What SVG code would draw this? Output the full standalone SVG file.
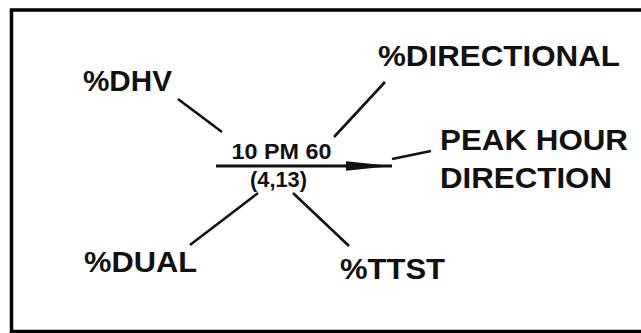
<svg xmlns="http://www.w3.org/2000/svg" width="641" height="333" viewBox="0 0 641 333">
<style>
.lbl{font-family:"Liberation Sans",Arial,sans-serif;font-weight:bold;font-size:30px;fill:#111}
.ctr{font-family:"Liberation Sans",Arial,sans-serif;font-weight:bold;font-size:22px;fill:#111}
.ln{stroke:#111;stroke-width:2.6;fill:none}
</style>
<defs>
<marker id="ah" markerUnits="userSpaceOnUse" markerWidth="46" markerHeight="12" refX="46" refY="6" orient="auto">
<path d="M0,1.3 L46,6 L0,10.7 Z" fill="#111"/>
</marker>
</defs>
<rect width="641" height="333" fill="#fff"/>
<path d="M641,10 H11.5 V331.5 H641" fill="none" stroke="#000" stroke-width="3.5"/>
<g id="connectors">
<line class="ln" x1="178" y1="99" x2="222" y2="132"/>
<line class="ln" x1="385" y1="82" x2="334" y2="137"/>
<line class="ln" x1="392" y1="159" x2="431" y2="151"/>
<line class="ln" x1="258" y1="193" x2="190" y2="245"/>
<line class="ln" x1="293" y1="193" x2="349" y2="246"/>
<line x1="216" y1="166" x2="392" y2="166" stroke="#111" stroke-width="3.2" marker-end="url(#ah)"/>
</g>
<g id="center">
<text class="ctr" x="281.5" y="159" text-anchor="middle" textLength="100" lengthAdjust="spacingAndGlyphs">10 PM 60</text>
<text class="ctr" x="278.5" y="187" text-anchor="middle" textLength="57" lengthAdjust="spacingAndGlyphs">(4,13)</text>
</g>
<g id="dhv"><text class="lbl" x="83" y="91" textLength="89" lengthAdjust="spacingAndGlyphs">%DHV</text></g>
<g id="directional"><text class="lbl" x="378" y="66" textLength="242" lengthAdjust="spacingAndGlyphs">%DIRECTIONAL</text></g>
<g id="peak"><text class="lbl" x="440" y="150" textLength="188" lengthAdjust="spacingAndGlyphs">PEAK HOUR</text><text class="lbl" x="440" y="188" textLength="172" lengthAdjust="spacingAndGlyphs">DIRECTION</text></g>
<g id="dual"><text class="lbl" x="84" y="271.5" textLength="113" lengthAdjust="spacingAndGlyphs">%DUAL</text></g>
<g id="ttst"><text class="lbl" x="340" y="279" textLength="105" lengthAdjust="spacingAndGlyphs">%TTST</text></g>
</svg>
